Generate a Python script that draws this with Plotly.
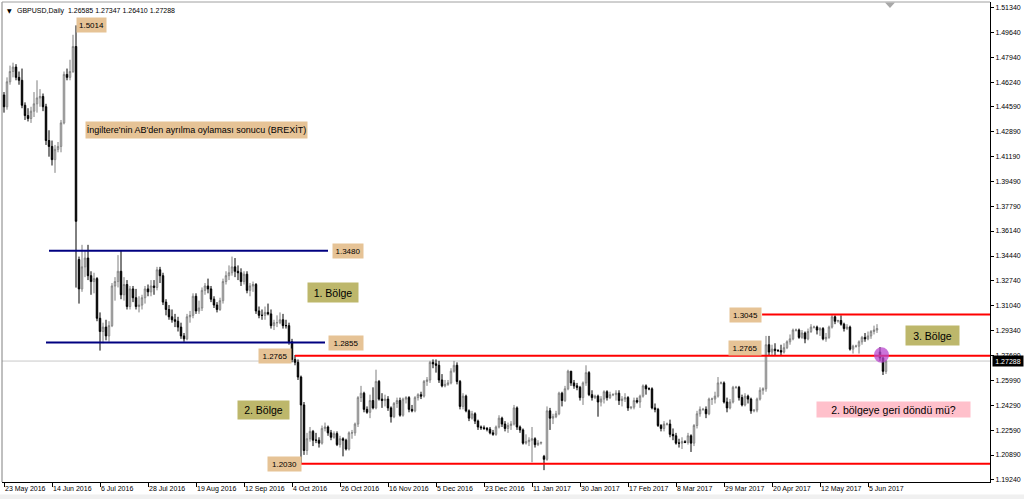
import plotly.graph_objects as go

# ---------------- data (GBPUSD daily bars) ----------------
opens = [
    1.4540,1.4460,1.4630,1.4700,1.4730,1.4660,1.4640,1.4470,1.4400,1.4380,
    1.4430,1.4480,1.4520,1.4530,1.4460,1.4230,1.4190,1.4100,1.4170,1.4190,
    1.4350,1.4680,1.4660,1.4700,1.4870,1.3420,1.3220,1.3370,1.3430,1.3310,
    1.3270,1.3290,1.3020,1.2930,1.2960,1.2900,1.2970,1.3240,1.3270,1.3340,
    1.3180,1.3250,1.3100,1.3220,1.3160,1.3100,1.3110,1.3160,1.3220,1.3200,
    1.3240,1.3230,1.3350,1.3310,1.3130,1.3080,1.3030,1.3010,1.3000,1.2960,
    1.2900,1.2880,1.3030,1.3040,1.3170,1.3070,1.3090,1.3210,1.3240,1.3220,
    1.3150,1.3110,1.3080,1.3140,1.3270,1.3310,1.3330,1.3370,1.3340,1.3330,
    1.3270,1.3320,1.3210,1.3240,1.3250,1.3070,1.3040,1.3040,1.3060,1.3050,
    1.2970,1.2990,1.2990,1.3010,1.2970,1.2970,1.2860,1.2740,1.2720,1.2620,
    1.2430,1.2120,1.2200,1.2250,1.2190,1.2190,1.2170,1.2270,1.2280,1.2240,
    1.2210,1.2235,1.2160,1.2200,1.2190,1.2130,1.2240,1.2240,1.2300,1.2480,
    1.2510,1.2400,1.2380,1.2460,1.2410,1.2590,1.2470,1.2460,1.2470,1.2410,
    1.2350,1.2440,1.2460,1.2360,1.2470,1.2480,1.2400,1.2390,1.2480,1.2500,
    1.2490,1.2590,1.2600,1.2720,1.2710,1.2700,1.2600,1.2560,1.2570,1.2580,
    1.2660,1.2700,1.2590,1.2420,1.2490,1.2390,1.2340,1.2370,1.2320,1.2280,
    1.2275,1.2270,1.2265,1.2240,1.2230,1.2280,1.2340,1.2300,1.2270,1.2290,
    1.2300,1.2410,1.2280,1.2260,1.2170,1.2180,1.2190,1.2200,1.2160,1.2170,
    1.2080,1.2060,1.2390,1.2340,1.2350,1.2370,1.2510,1.2460,1.2540,1.2660,
    1.2580,1.2560,1.2550,1.2480,1.2580,1.2650,1.2500,1.2480,1.2490,1.2450,
    1.2470,1.2520,1.2480,1.2500,1.2500,1.2510,1.2460,1.2470,1.2480,1.2410,
    1.2415,1.2460,1.2450,1.2490,1.2560,1.2540,1.2540,1.2410,1.2400,1.2290,
    1.2270,1.2300,1.2300,1.2230,1.2220,1.2170,1.2170,1.2180,1.2175,1.2220,
    1.2170,1.2290,1.2370,1.2400,1.2400,1.2370,1.2470,1.2470,1.2490,1.2580,
    1.2580,1.2450,1.2410,1.2450,1.2550,1.2550,1.2480,1.2430,1.2490,1.2470,
    1.2390,1.2395,1.2470,1.2530,1.2540,1.2840,1.2790,1.2810,1.2800,1.2800,
    1.2790,1.2820,1.2860,1.2880,1.2940,1.2940,1.2890,1.2920,1.2880,1.2930,
    1.2960,1.2960,1.2940,1.2950,1.2880,1.2890,1.2960,1.3030,1.3000,1.3005,
    1.2980,1.2950,1.2960,1.2810,1.2830,1.2830,1.2860,1.2890,1.2880,1.2900,
    1.2930,1.2940,1.2790,1.2750,1.26585,
]
highs = [
    1.4560,1.4660,1.4740,1.4760,1.4750,1.4700,1.4720,1.4490,1.4450,1.4460,
    1.4560,1.4640,1.4580,1.4550,1.4480,1.4300,1.4230,1.4200,1.4220,1.4370,
    1.4700,1.4720,1.4780,1.4950,1.5014,1.3440,1.3520,1.3480,1.3520,1.3340,
    1.3330,1.3300,1.3060,1.2990,1.3010,1.3000,1.3260,1.3300,1.3450,1.3480,
    1.3300,1.3280,1.3240,1.3240,1.3220,1.3170,1.3180,1.3240,1.3250,1.3280,
    1.3280,1.3370,1.3370,1.3330,1.3150,1.3110,1.3080,1.3050,1.3030,1.2990,
    1.2920,1.3050,1.3070,1.3190,1.3190,1.3140,1.3230,1.3260,1.3290,1.3240,
    1.3170,1.3130,1.3160,1.3290,1.3340,1.3380,1.3440,1.3430,1.3380,1.3360,
    1.3340,1.3340,1.3260,1.3270,1.3260,1.3100,1.3080,1.3100,1.3120,1.3080,
    1.3010,1.3040,1.3060,1.3050,1.3010,1.2990,1.2880,1.2770,1.2740,1.2630,
    1.2450,1.2240,1.2280,1.2260,1.2240,1.2210,1.2290,1.2310,1.2290,1.2260,
    1.2250,1.2250,1.2220,1.2210,1.2200,1.2250,1.2260,1.2310,1.2490,1.2560,
    1.2520,1.2420,1.2500,1.2550,1.2670,1.2600,1.2510,1.2500,1.2490,1.2420,
    1.2450,1.2480,1.2480,1.2480,1.2490,1.2490,1.2430,1.2490,1.2510,1.2520,
    1.2600,1.2620,1.2730,1.2740,1.2740,1.2730,1.2640,1.2600,1.2600,1.2680,
    1.2730,1.2720,1.2600,1.2510,1.2500,1.2400,1.2390,1.2380,1.2330,1.2290,
    1.2290,1.2280,1.2280,1.2260,1.2290,1.2360,1.2350,1.2320,1.2310,1.2320,
    1.2430,1.2420,1.2290,1.2270,1.2230,1.2210,1.2280,1.2210,1.2190,1.2180,
    1.2090,1.2420,1.2410,1.2370,1.2390,1.2520,1.2520,1.2560,1.2670,1.2660,
    1.2600,1.2580,1.2560,1.2590,1.2700,1.2660,1.2530,1.2500,1.2500,1.2490,
    1.2530,1.2530,1.2520,1.2510,1.2530,1.2530,1.2490,1.2510,1.2490,1.2420,
    1.2480,1.2480,1.2500,1.2570,1.2570,1.2550,1.2550,1.2440,1.2410,1.2300,
    1.2320,1.2310,1.2330,1.2270,1.2240,1.2200,1.2210,1.2190,1.2240,1.2230,
    1.2300,1.2390,1.2420,1.2410,1.2420,1.2480,1.2480,1.2520,1.2620,1.2590,
    1.2590,1.2480,1.2470,1.2560,1.2560,1.2560,1.2500,1.2510,1.2500,1.2480,
    1.2400,1.2480,1.2550,1.2550,1.2900,1.2900,1.2840,1.2850,1.2810,1.2840,
    1.2850,1.2870,1.2910,1.2950,1.2950,1.2950,1.2940,1.2930,1.2950,1.2980,
    1.2970,1.2970,1.2960,1.2960,1.2920,1.2970,1.3045,1.3040,1.3010,1.3040,
    1.2990,1.2980,1.2970,1.2840,1.2840,1.2870,1.2900,1.2920,1.2930,1.2940,
    1.2970,1.2980,1.2824,1.2760,1.27347,
]
lows = [
    1.4420,1.4440,1.4610,1.4660,1.4640,1.4610,1.4450,1.4370,1.4360,1.4350,
    1.4390,1.4420,1.4460,1.4430,1.4200,1.4120,1.4060,1.4010,1.4150,1.4150,
    1.4340,1.4640,1.4640,1.4690,1.3229,1.3120,1.3200,1.3300,1.3280,1.3180,
    1.3190,1.3000,1.2800,1.2850,1.2870,1.2860,1.2960,1.3140,1.3230,1.3150,
    1.3140,1.3080,1.3080,1.3130,1.3080,1.3060,1.3080,1.3120,1.3170,1.3170,
    1.3180,1.3210,1.3260,1.3110,1.3040,1.3010,1.2990,1.2960,1.2930,1.2880,
    1.2860,1.2870,1.2990,1.3020,1.3050,1.3050,1.3070,1.3180,1.3190,1.3130,
    1.3090,1.3060,1.3070,1.3120,1.3250,1.3280,1.3310,1.3300,1.3280,1.3240,
    1.3250,1.3190,1.3170,1.3200,1.3050,1.3020,1.3010,1.3010,1.3040,1.2950,
    1.2940,1.2960,1.2980,1.2950,1.2950,1.2840,1.2720,1.2700,1.2600,1.2030,
    1.2090,1.2090,1.2180,1.2150,1.2170,1.2140,1.2160,1.2250,1.2220,1.2190,
    1.2200,1.2150,1.2140,1.2080,1.2120,1.2120,1.2200,1.2220,1.2280,1.2450,
    1.2380,1.2370,1.2340,1.2400,1.2400,1.2460,1.2410,1.2420,1.2390,1.2310,
    1.2340,1.2410,1.2350,1.2350,1.2440,1.2380,1.2380,1.2380,1.2460,1.2470,
    1.2480,1.2560,1.2580,1.2680,1.2650,1.2580,1.2550,1.2550,1.2560,1.2570,
    1.2650,1.2570,1.2400,1.2400,1.2380,1.2320,1.2330,1.2300,1.2260,1.2260,
    1.2260,1.2250,1.2230,1.2220,1.2220,1.2270,1.2280,1.2250,1.2240,1.2260,
    1.2290,1.2260,1.2240,1.2160,1.2160,1.2150,1.2040,1.2140,1.2150,1.2160,
    1.1986,1.2050,1.2260,1.2300,1.2340,1.2360,1.2420,1.2450,1.2530,1.2560,
    1.2540,1.2530,1.2460,1.2430,1.2560,1.2490,1.2460,1.2470,1.2350,1.2420,
    1.2440,1.2460,1.2470,1.2490,1.2460,1.2430,1.2420,1.2450,1.2390,1.2400,
    1.2400,1.2440,1.2410,1.2480,1.2500,1.2530,1.2400,1.2380,1.2280,1.2250,
    1.2250,1.2290,1.2210,1.2190,1.2160,1.2140,1.2130,1.2170,1.2160,1.2110,
    1.2150,1.2270,1.2350,1.2390,1.2340,1.2360,1.2430,1.2440,1.2480,1.2570,
    1.2440,1.2380,1.2400,1.2440,1.2540,1.2460,1.2420,1.2420,1.2440,1.2370,
    1.2380,1.2380,1.2460,1.2500,1.2520,1.2770,1.2770,1.2770,1.2790,1.2770,
    1.2780,1.2810,1.2840,1.2870,1.2930,1.2880,1.2880,1.2850,1.2870,1.2920,
    1.2950,1.2910,1.2900,1.2870,1.2860,1.2880,1.2950,1.2980,1.2990,1.2970,
    1.2930,1.2940,1.2800,1.2780,1.2820,1.2780,1.2840,1.2860,1.2870,1.2880,
    1.2910,1.2920,1.2730,1.2634,1.26410,
]
closes = [
    1.4460,1.4630,1.4700,1.4730,1.4660,1.4640,1.4470,1.4400,1.4380,1.4430,
    1.4480,1.4520,1.4530,1.4460,1.4230,1.4190,1.4100,1.4170,1.4190,1.4350,
    1.4680,1.4660,1.4700,1.4870,1.3680,1.3220,1.3370,1.3430,1.3310,1.3270,
    1.3290,1.3020,1.2930,1.2960,1.2900,1.2970,1.3240,1.3270,1.3340,1.3180,
    1.3250,1.3100,1.3220,1.3160,1.3100,1.3110,1.3160,1.3220,1.3200,1.3240,
    1.3230,1.3350,1.3310,1.3130,1.3080,1.3030,1.3010,1.3000,1.2960,1.2900,
    1.2880,1.3030,1.3040,1.3170,1.3070,1.3090,1.3210,1.3240,1.3220,1.3150,
    1.3110,1.3080,1.3140,1.3270,1.3310,1.3330,1.3370,1.3340,1.3330,1.3270,
    1.3320,1.3210,1.3240,1.3250,1.3070,1.3040,1.3040,1.3060,1.3050,1.2970,
    1.2990,1.2990,1.3010,1.2970,1.2970,1.2860,1.2740,1.2720,1.2620,1.2430,
    1.2120,1.2200,1.2250,1.2190,1.2190,1.2170,1.2270,1.2280,1.2240,1.2210,
    1.2235,1.2160,1.2200,1.2190,1.2130,1.2240,1.2240,1.2300,1.2480,1.2510,
    1.2400,1.2380,1.2460,1.2410,1.2590,1.2470,1.2460,1.2470,1.2410,1.2350,
    1.2440,1.2460,1.2360,1.2470,1.2480,1.2400,1.2390,1.2480,1.2500,1.2490,
    1.2590,1.2600,1.2720,1.2710,1.2700,1.2600,1.2560,1.2570,1.2580,1.2660,
    1.2700,1.2590,1.2420,1.2490,1.2390,1.2340,1.2370,1.2320,1.2280,1.2275,
    1.2270,1.2265,1.2240,1.2230,1.2280,1.2340,1.2300,1.2270,1.2290,1.2300,
    1.2410,1.2280,1.2260,1.2170,1.2180,1.2190,1.2200,1.2160,1.2170,1.2175,
    1.2060,1.2390,1.2340,1.2350,1.2370,1.2510,1.2460,1.2540,1.2660,1.2580,
    1.2560,1.2550,1.2480,1.2580,1.2650,1.2500,1.2480,1.2490,1.2450,1.2470,
    1.2520,1.2480,1.2500,1.2500,1.2510,1.2460,1.2470,1.2480,1.2410,1.2415,
    1.2460,1.2450,1.2490,1.2560,1.2540,1.2540,1.2410,1.2400,1.2290,1.2270,
    1.2300,1.2300,1.2230,1.2220,1.2170,1.2170,1.2180,1.2175,1.2220,1.2170,
    1.2290,1.2370,1.2400,1.2400,1.2370,1.2470,1.2470,1.2490,1.2580,1.2580,
    1.2450,1.2410,1.2450,1.2550,1.2550,1.2480,1.2430,1.2490,1.2470,1.2390,
    1.2395,1.2470,1.2530,1.2540,1.2840,1.2790,1.2810,1.2800,1.2800,1.2790,
    1.2820,1.2860,1.2880,1.2940,1.2940,1.2890,1.2920,1.2880,1.2930,1.2960,
    1.2960,1.2940,1.2950,1.2880,1.2890,1.2960,1.3030,1.3000,1.3005,1.2980,
    1.2950,1.2960,1.2810,1.2830,1.2830,1.2860,1.2890,1.2880,1.2900,1.2930,
    1.2940,1.2950,1.2750,1.2659,1.27288,
]
bars = list(range(len(closes)))

date_tick_bars = [0, 16, 32, 48, 64, 80, 96, 112, 128, 144, 160, 176, 192, 208, 224, 240, 256, 272, 288]
date_tick_labels = ["23 May 2016", "14 Jun 2016", "6 Jul 2016", "28 Jul 2016", "19 Aug 2016",
                    "12 Sep 2016", "4 Oct 2016", "26 Oct 2016", "16 Nov 2016", "5 Dec 2016",
                    "23 Dec 2016", "11 Jan 2017", "30 Jan 2017", "17 Feb 2017", "8 Mar 2017",
                    "29 Mar 2017", "20 Apr 2017", "12 May 2017", "5 Jun 2017"]
price_ticks = [1.51340, 1.49640, 1.47940, 1.46240, 1.44590, 1.42890, 1.41190, 1.39490, 1.37790,
               1.36140, 1.34440, 1.32740, 1.31040, 1.29340, 1.27690, 1.25990, 1.24290, 1.22590,
               1.20890, 1.19240]
price_tick_labels = ["%.5f" % v for v in price_ticks]

header_text = "GBPUSD,Daily\u00a0\u00a01.26585 1.27347 1.26410 1.27288"
current_price = 1.27288

# horizontal levels: (price, start bar, end bar, colour)
level_prices = [1.3480, 1.2855, 1.2765, 1.2030, 1.3045]
level_start = [15, 14, 97, 98.7, 252.7]
level_end = [108, 107, 340, 340, 340]
level_colors = ["#000080", "#000080", "#ff0000", "#ff0000", "#ff0000"]

# price label boxes
tag_texts = ["1.5014", "1.3480", "1.2855", "1.2765", "1.2030", "1.3045", "1.2765"]
tag_bars = [24, 109.3, 108, 84.7, 87.7, 241.7, 241.3]
tag_prices = [1.5014, 1.3480, 1.2855, 1.2765, 1.2030, 1.3045, 1.2765]
tag_widths = [29, 30, 34, 32, 33, 31, 32]
tag_anchor = ["middle", "middle", "middle", "middle", "middle", "middle", "bottom"]

note_texts = ["İngiltere'nin AB'den ayrılma oylaması sonucu (BREXİT)", "1. Bölge", "2. Bölge",
              "3. Bölge", "2. bölgeye geri döndü mü?"]
note_bars = [27, 101, 77.7, 300.3, 270.7]
note_prices = [1.4302, 1.3196, 1.2399, 1.2903, 1.2396]
note_widths = [221, 50, 51, 53, 153]
note_heights = [16, 19, 18, 19, 15]
note_sizes = [9, 10.5, 10.5, 10.5, 10.5]
note_colors = ["#e6c396", "#bdb76b", "#bdb76b", "#bdb76b", "#ffc0cb"]

mark_bar, mark_price = 292.5, 1.2770

# ---------------- figure ----------------
fig = go.Figure()
fig.add_trace(go.Candlestick(
    x=bars, open=opens, high=highs, low=lows, close=closes,
    increasing=dict(line=dict(color="#7f7f7f", width=1), fillcolor="#ffffff"),
    decreasing=dict(line=dict(color="#000000", width=1), fillcolor="#000000"),
    whiskerwidth=0, showlegend=False, hoverinfo="skip",
))

shapes = []
shapes.append(dict(type="line", xref="paper", yref="y", x0=0, x1=1, y0=current_price, y1=current_price,
                   line=dict(color="#c8c8c8", width=1), layer="below"))
for p, s, e, c in zip(level_prices, level_start, level_end, level_colors):
    shapes.append(dict(type="line", xref="x", yref="y", x0=s, x1=e, y0=p, y1=p,
                       line=dict(color=c, width=2)))
shapes.append(dict(type="circle", xref="x", yref="y", x0=mark_bar - 2.5, x1=mark_bar + 2.5,
                   y0=mark_price - 0.0052, y1=mark_price + 0.0052,
                   fillcolor="rgba(185,70,205,0.75)", line=dict(width=0)))
shapes.append(dict(type="line", xref="paper", yref="paper", x0=0, x1=0, y0=0, y1=1,
                   line=dict(color="#808080", width=1)))
shapes.append(dict(type="line", xref="paper", yref="paper", x0=0, x1=1, y0=1, y1=1,
                   line=dict(color="#a0a0a0", width=1)))
shapes.append(dict(type="path", xref="paper", yref="paper",
                   path="M 0.8937 0.999 L 0.9038 0.999 L 0.8988 0.9875 Z",
                   fillcolor="#a8a8a8", line=dict(width=0)))
shapes.append(dict(type="rect", xref="paper", yref="paper", x0=-0.01, x1=1.04, y0=-0.026, y1=-0.04,
                   fillcolor="#f0f0f0", line=dict(width=0), layer="below"))

annotations = []
annotations.append(dict(xref="paper", yref="paper", x=0, y=1, xanchor="left", yanchor="top",
                        xshift=3, yshift=-3, text="\u25bc", showarrow=False,
                        font=dict(family="DejaVu Sans", size=6, color="#000000")))
annotations.append(dict(xref="paper", yref="paper", x=0, y=1, xanchor="left", yanchor="top",
                        xshift=13, yshift=-3, text=header_text, showarrow=False,
                        font=dict(family="Liberation Sans", size=7, color="#000000")))
for t, b, p, w, a in zip(tag_texts, tag_bars, tag_prices, tag_widths, tag_anchor):
    annotations.append(dict(xref="x", yref="y", x=b, y=p, xanchor="left", yanchor=a, text=t,
                            showarrow=False, bgcolor="#e6c396", width=w, height=14, borderpad=0,
                            align="center", font=dict(family="Liberation Sans", size=8, color="#000000")))
for t, b, p, w, h, s, c in zip(note_texts, note_bars, note_prices, note_widths, note_heights,
                               note_sizes, note_colors):
    annotations.append(dict(xref="x", yref="y", x=b, y=p, xanchor="left", yanchor="middle", text=t,
                            showarrow=False, bgcolor=c, width=w, height=h, borderpad=0, align="center",
                            font=dict(family="Liberation Sans", size=s, color="#000000")))
annotations.append(dict(xref="paper", yref="y", x=1, y=current_price, xanchor="left", yanchor="middle",
                        xshift=2, text="%.5f" % current_price, showarrow=False, bgcolor="#000000",
                        width=30, height=10, borderpad=0,
                        font=dict(family="Liberation Sans", size=7, color="#ffffff")))

fig.update_layout(
    width=1024, height=499, autosize=False,
    margin=dict(l=2, r=34, t=2, b=17),
    paper_bgcolor="#ffffff", plot_bgcolor="#ffffff",
    showlegend=False,
    shapes=shapes, annotations=annotations,
    xaxis=dict(range=[-0.6667, 328.667], rangeslider=dict(visible=False), showgrid=False,
               zeroline=False, showline=True, linecolor="#000000", linewidth=1,
               tickmode="array", tickvals=date_tick_bars, ticktext=date_tick_labels,
               ticks="outside", ticklen=4, tickcolor="#000000", ticklabelposition="outside right",
               tickangle=0, automargin=False,
               tickfont=dict(family="Liberation Sans", size=7, color="#000000"), fixedrange=True),
    yaxis=dict(range=[1.19055, 1.51731], side="right", showgrid=False, zeroline=False,
               showline=True, linecolor="#000000", linewidth=1, automargin=False,
               tickmode="array", tickvals=price_ticks, ticktext=price_tick_labels,
               ticks="outside", ticklen=3, tickcolor="#000000",
               tickfont=dict(family="Liberation Sans", size=7, color="#000000"), fixedrange=True),
)

fig.write_html("out.html", config={"displayModeBar": False},
               post_script="document.body.style.margin='0px';document.body.style.overflow='hidden';")
